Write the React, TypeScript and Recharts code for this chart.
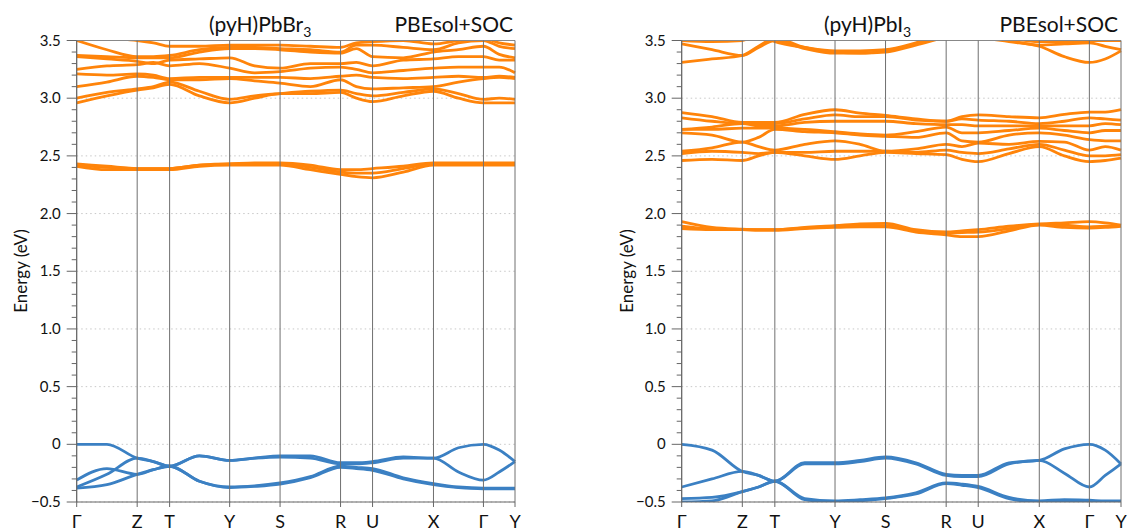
import React from 'react';
import { LineChart, Line, XAxis, YAxis, CartesianGrid, ReferenceLine } from 'recharts';

// high-symmetry points along the k-path (fraction of path length)
const kPoints = [0, 0.138, 0.212, 0.349, 0.464, 0.602, 0.675, 0.814, 0.928, 1];
const kLabels = ['Γ', 'Z', 'T', 'Y', 'S', 'R', 'U', 'X', 'Γ', 'Y'];

const kGrid = [0, 0.069, 0.138, 0.175, 0.212, 0.28, 0.349, 0.406, 0.464, 0.533, 0.602, 0.638, 0.675, 0.745, 0.814, 0.871, 0.928, 0.964, 1];

const majorTicks = [-0.5, 0, 0.5, 1, 1.5, 2, 2.5, 3, 3.5];
const energyTicks = [
  -0.5, -0.4, -0.3, -0.2, -0.1, 0, 0.1, 0.2, 0.3, 0.4, 0.5, 0.6, 0.7, 0.8, 0.9, 1, 1.1, 1.2, 1.3, 1.4, 1.5,
  1.6, 1.7, 1.8, 1.9, 2, 2.1, 2.2, 2.3, 2.4, 2.5, 2.6, 2.7, 2.8, 2.9, 3, 3.1, 3.2, 3.3, 3.4, 3.5,
];

// (pyH)PbBr3 — valence bands
const brVal1 = [0.0, 0.0, -0.12, -0.15, -0.19, -0.1, -0.14, -0.12, -0.1, -0.1, -0.16, -0.16, -0.15, -0.11, -0.12, -0.03, 0.0, -0.05, -0.15];
const brVal2 = [-0.37, -0.26, -0.12, -0.15, -0.19, -0.1, -0.14, -0.12, -0.11, -0.12, -0.17, -0.17, -0.16, -0.12, -0.12, -0.24, -0.31, -0.24, -0.15];
const brVal3 = [-0.31, -0.21, -0.26, -0.22, -0.19, -0.32, -0.37, -0.36, -0.335, -0.28, -0.19, -0.2, -0.21, -0.29, -0.34, -0.37, -0.38, -0.38, -0.38];
const brVal4 = [-0.38, -0.35, -0.26, -0.22, -0.19, -0.32, -0.375, -0.365, -0.345, -0.29, -0.2, -0.21, -0.225, -0.3, -0.35, -0.375, -0.385, -0.385, -0.385];

// (pyH)PbBr3 — lowest conduction bands (~2.4 eV)
const brMid1 = [2.41, 2.38, 2.38, 2.38, 2.38, 2.41, 2.42, 2.42, 2.42, 2.38, 2.34, 2.32, 2.31, 2.36, 2.42, 2.42, 2.42, 2.42, 2.42];
const brMid2 = [2.42, 2.4, 2.39, 2.39, 2.39, 2.42, 2.43, 2.43, 2.43, 2.4, 2.36, 2.35, 2.35, 2.39, 2.43, 2.43, 2.43, 2.43, 2.43];
const brMid3 = [2.43, 2.41, 2.39, 2.39, 2.39, 2.42, 2.43, 2.44, 2.44, 2.42, 2.38, 2.38, 2.39, 2.41, 2.44, 2.44, 2.44, 2.44, 2.44];

// (pyH)PbBr3 — upper conduction bands (3.0–3.5 eV)
const brCon1 = [2.96, 3.02, 3.07, 3.09, 3.12, 3.02, 2.96, 3.0, 3.04, 3.04, 3.05, 3.0, 2.97, 3.02, 3.06, 3.0, 2.96, 2.96, 2.96];
const brCon2 = [3.0, 3.05, 3.08, 3.1, 3.14, 3.06, 2.99, 3.02, 3.04, 3.06, 3.07, 3.04, 3.02, 3.05, 3.08, 3.04, 2.99, 3.0, 2.99];
const brCon3 = [3.1, 3.14, 3.19, 3.18, 3.16, 3.16, 3.17, 3.15, 3.13, 3.1, 3.16, 3.1, 3.08, 3.09, 3.1, 3.14, 3.17, 3.18, 3.17];
const brCon4 = [3.21, 3.2, 3.21, 3.2, 3.17, 3.18, 3.18, 3.18, 3.18, 3.17, 3.19, 3.2, 3.18, 3.17, 3.18, 3.19, 3.18, 3.19, 3.18];
const brCon5 = [3.25, 3.28, 3.29, 3.31, 3.28, 3.3, 3.26, 3.22, 3.23, 3.26, 3.27, 3.25, 3.22, 3.24, 3.26, 3.27, 3.27, 3.27, 3.22];
const brCon6 = [3.36, 3.34, 3.32, 3.3, 3.33, 3.34, 3.35, 3.28, 3.26, 3.3, 3.3, 3.31, 3.28, 3.33, 3.34, 3.36, 3.36, 3.33, 3.33];
const brCon7 = [3.37, 3.36, 3.35, 3.35, 3.35, 3.4, 3.43, 3.43, 3.42, 3.4, 3.39, 3.43, 3.36, 3.35, 3.4, 3.42, 3.45, 3.38, 3.35];
const brCon8 = [3.5, 3.42, 3.36, 3.36, 3.37, 3.42, 3.44, 3.44, 3.43, 3.42, 3.4, 3.46, 3.46, 3.44, 3.42, 3.48, 3.5, 3.45, 3.43];
const brCon9 = [3.55, 3.52, 3.5, 3.48, 3.45, 3.45, 3.46, 3.46, 3.46, 3.45, 3.44, 3.48, 3.49, 3.5, 3.47, 3.5, 3.52, 3.48, 3.46];

// (pyH)PbI3 — valence bands
const ioVal1 = [0.0, -0.05, -0.235, -0.27, -0.32, -0.16, -0.16, -0.14, -0.11, -0.16, -0.26, -0.27, -0.27, -0.16, -0.14, -0.04, 0.0, -0.05, -0.17];
const ioVal2 = [-0.37, -0.3, -0.235, -0.27, -0.32, -0.17, -0.17, -0.15, -0.12, -0.17, -0.27, -0.28, -0.28, -0.17, -0.14, -0.25, -0.37, -0.27, -0.17];
const ioVal3 = [-0.47, -0.46, -0.41, -0.37, -0.32, -0.47, -0.49, -0.48, -0.465, -0.42, -0.335, -0.345, -0.365, -0.46, -0.49, -0.48, -0.485, -0.49, -0.49];
const ioVal4 = [-0.5, -0.49, -0.41, -0.37, -0.32, -0.48, -0.5, -0.49, -0.47, -0.43, -0.34, -0.355, -0.375, -0.47, -0.5, -0.49, -0.49, -0.5, -0.5];

// (pyH)PbI3 — lowest conduction bands (~1.9 eV)
const ioMid1 = [1.87, 1.86, 1.86, 1.855, 1.855, 1.87, 1.88, 1.885, 1.885, 1.84, 1.815, 1.8, 1.8, 1.85, 1.9, 1.88, 1.875, 1.88, 1.89];
const ioMid2 = [1.89, 1.865, 1.86, 1.86, 1.86, 1.875, 1.89, 1.895, 1.895, 1.85, 1.83, 1.835, 1.84, 1.87, 1.905, 1.9, 1.885, 1.89, 1.895];
const ioMid3 = [1.93, 1.88, 1.865, 1.86, 1.86, 1.88, 1.895, 1.91, 1.915, 1.86, 1.84, 1.85, 1.86, 1.89, 1.91, 1.92, 1.93, 1.92, 1.9];

// (pyH)PbI3 — conduction bands 2.45–2.9 eV
const ioCon1 = [2.46, 2.47, 2.46, 2.5, 2.53, 2.5, 2.47, 2.5, 2.53, 2.52, 2.51, 2.47, 2.45, 2.52, 2.58, 2.5, 2.45, 2.46, 2.48];
const ioCon2 = [2.52, 2.54, 2.53, 2.52, 2.53, 2.53, 2.54, 2.54, 2.54, 2.53, 2.55, 2.53, 2.52, 2.56, 2.6, 2.55, 2.5, 2.5, 2.51];
const ioCon3 = [2.54, 2.57, 2.62, 2.58, 2.55, 2.6, 2.63, 2.6, 2.54, 2.56, 2.6, 2.58, 2.61, 2.6, 2.625, 2.62, 2.55, 2.58, 2.55];
const ioCon4 = [2.7, 2.68, 2.62, 2.66, 2.73, 2.71, 2.7, 2.68, 2.67, 2.66, 2.7, 2.63, 2.62, 2.68, 2.7, 2.68, 2.64, 2.63, 2.63];
const ioCon5 = [2.73, 2.73, 2.74, 2.74, 2.74, 2.73, 2.71, 2.69, 2.68, 2.71, 2.75, 2.7, 2.7, 2.72, 2.74, 2.72, 2.7, 2.72, 2.72];
const ioCon6 = [2.73, 2.75, 2.78, 2.76, 2.76, 2.79, 2.8, 2.8, 2.8, 2.78, 2.77, 2.77, 2.76, 2.76, 2.76, 2.76, 2.76, 2.78, 2.77];
const ioCon7 = [2.83, 2.8, 2.78, 2.78, 2.78, 2.82, 2.855, 2.84, 2.84, 2.81, 2.8, 2.82, 2.81, 2.8, 2.78, 2.8, 2.83, 2.82, 2.81];
const ioCon8 = [2.875, 2.84, 2.79, 2.79, 2.79, 2.86, 2.9, 2.87, 2.85, 2.82, 2.8, 2.84, 2.855, 2.84, 2.83, 2.86, 2.88, 2.88, 2.9];

// (pyH)PbI3 — bands near the top (3.3–3.5 eV)
const ioTop1 = [3.31, 3.34, 3.37, 3.45, 3.52, 3.44, 3.4, 3.39, 3.4, 3.46, 3.53, 3.56, 3.53, 3.49, 3.45, 3.36, 3.31, 3.34, 3.41];
const ioTop2 = [3.47, 3.42, 3.37, 3.44, 3.5, 3.43, 3.39, 3.39, 3.41, 3.47, 3.55, 3.58, 3.55, 3.5, 3.46, 3.47, 3.48, 3.45, 3.42];
const ioTop3 = [3.5, 3.49, 3.5, 3.55, 3.49, 3.44, 3.41, 3.41, 3.42, 3.48, 3.56, 3.58, 3.56, 3.52, 3.49, 3.49, 3.5, 3.5, 3.5];

const ORANGE = '#ff840a';
const BLUE = '#3b80c3';
const FONT = 'Lato, "Open Sans", sans-serif';

const brSeries = [
  { name: 'v1', values: brVal1, color: BLUE },
  { name: 'v2', values: brVal2, color: BLUE },
  { name: 'v3', values: brVal3, color: BLUE },
  { name: 'v4', values: brVal4, color: BLUE },
  { name: 'm1', values: brMid1, color: ORANGE },
  { name: 'm2', values: brMid2, color: ORANGE },
  { name: 'm3', values: brMid3, color: ORANGE },
  { name: 'c1', values: brCon1, color: ORANGE },
  { name: 'c2', values: brCon2, color: ORANGE },
  { name: 'c3', values: brCon3, color: ORANGE },
  { name: 'c4', values: brCon4, color: ORANGE },
  { name: 'c5', values: brCon5, color: ORANGE },
  { name: 'c6', values: brCon6, color: ORANGE },
  { name: 'c7', values: brCon7, color: ORANGE },
  { name: 'c8', values: brCon8, color: ORANGE },
  { name: 'c9', values: brCon9, color: ORANGE },
];

const ioSeries = [
  { name: 'v1', values: ioVal1, color: BLUE },
  { name: 'v2', values: ioVal2, color: BLUE },
  { name: 'v3', values: ioVal3, color: BLUE },
  { name: 'v4', values: ioVal4, color: BLUE },
  { name: 'm1', values: ioMid1, color: ORANGE },
  { name: 'm2', values: ioMid2, color: ORANGE },
  { name: 'm3', values: ioMid3, color: ORANGE },
  { name: 'c1', values: ioCon1, color: ORANGE },
  { name: 'c2', values: ioCon2, color: ORANGE },
  { name: 'c3', values: ioCon3, color: ORANGE },
  { name: 'c4', values: ioCon4, color: ORANGE },
  { name: 'c5', values: ioCon5, color: ORANGE },
  { name: 'c6', values: ioCon6, color: ORANGE },
  { name: 'c7', values: ioCon7, color: ORANGE },
  { name: 'c8', values: ioCon8, color: ORANGE },
  { name: 't1', values: ioTop1, color: ORANGE },
  { name: 't2', values: ioTop2, color: ORANGE },
  { name: 't3', values: ioTop3, color: ORANGE },
];

const fmtEnergy = (v: number) => {
  if (Math.abs(v) < 1e-9) return '0';
  if (v < 0) return '\u2212' + Math.abs(v).toFixed(1);
  return v.toFixed(1);
};

const EnergyTick = (props: any) => {
  const { x, y, payload } = props;
  const v = payload.value;
  const major = majorTicks.some((m) => Math.abs(m - v) < 1e-6);
  return (
    <g>
      <line x1={x - (major ? 10 : 5)} x2={x} y1={y} y2={y} stroke="#666" />
      {major && (
        <text x={x - 16} y={y + 5} textAnchor="end" fontSize={15} fontFamily={FONT} fill="#111">
          {fmtEnergy(v)}
        </text>
      )}
    </g>
  );
};

const KTick = (props: any) => {
  const { x, y, payload } = props;
  const idx = kPoints.findIndex((k) => Math.abs(k - payload.value) < 1e-6);
  return (
    <g>
      <line x1={x} x2={x} y1={y} y2={y + 5} stroke="#666" />
      <text x={x} y={y + 26} textAnchor="middle" fontSize={18} fontFamily={FONT} fill="#111">
        {kLabels[idx]}
      </text>
    </g>
  );
};

interface PanelProps {
  width: number;
  axisWidth: number;
  right: number;
  series: { name: string; values: number[]; color: string }[];
}

const BandPanel: React.FC<PanelProps> = ({ width, axisWidth, right, series }) => {
  const rows = kGrid.map((k, i) => {
    const row: any = { k };
    series.forEach((s) => {
      row[s.name] = s.values[i];
    });
    return row;
  });

  return (
    <LineChart width={width} height={531} data={rows} margin={{ top: 40.5, right, bottom: 0, left: 0 }}>
      <CartesianGrid vertical={false} horizontalValues={majorTicks} stroke="#c8c8c8" strokeDasharray="1.5 3" />
      <XAxis
        dataKey="k"
        type="number"
        domain={[0, 1]}
        ticks={kPoints}
        interval={0}
        height={29}
        tickSize={0}
        tickMargin={0}
        tickLine={false}
        axisLine={{ stroke: '#666' }}
        tick={<KTick />}
      />
      <YAxis
        type="number"
        domain={[-0.5, 3.5]}
        allowDataOverflow
        ticks={energyTicks}
        interval={0}
        width={axisWidth}
        tickSize={0}
        tickMargin={0}
        tickLine={false}
        axisLine={{ stroke: '#666' }}
        tick={<EnergyTick />}
      />
      {series.map((s) => (
        <Line
          key={s.name}
          dataKey={s.name}
          type="monotone"
          stroke={s.color}
          strokeWidth={2.8}
          dot={false}
          isAnimationActive={false}
        />
      ))}
      <ReferenceLine y={3.5} stroke="#888" />
      {kPoints.map((k, i) => (
        <ReferenceLine key={i} x={k} stroke="#707070" />
      ))}
    </LineChart>
  );
};

const App: React.FC = () => {
  return (
    <div style={{ position: 'absolute', left: 0, top: 0, width: 1128, height: 531, background: '#fff' }}>
      <div style={{ position: 'absolute', left: 0, top: 0 }}>
        <BandPanel width={560} axisWidth={76.7} right={45} series={brSeries} />
      </div>
      <div style={{ position: 'absolute', left: 560, top: 0 }}>
        <BandPanel width={568} axisWidth={121.7} right={7} series={ioSeries} />
      </div>
      <svg
        width={1128}
        height={531}
        style={{ position: 'absolute', left: 0, top: 0, pointerEvents: 'none' }}
        fontFamily={FONT}
        fill="#111"
      >
        <text x={209} y={32} fontSize={21}>
          (pyH)PbBr<tspan fontSize={14} dy={5}>3</tspan>
        </text>
        <text x={513} y={32} fontSize={21} textAnchor="end">
          PBEsol+SOC
        </text>
        <text x={824} y={32} fontSize={21}>
          (pyH)PbI<tspan fontSize={14} dy={5}>3</tspan>
        </text>
        <text x={1118} y={32} fontSize={21} textAnchor="end">
          PBEsol+SOC
        </text>
        <text transform="translate(27,271) rotate(-90)" textAnchor="middle" fontSize={17}>
          Energy (eV)
        </text>
        <text transform="translate(633,271) rotate(-90)" textAnchor="middle" fontSize={17}>
          Energy (eV)
        </text>
      </svg>
    </div>
  );
};

export default App;
